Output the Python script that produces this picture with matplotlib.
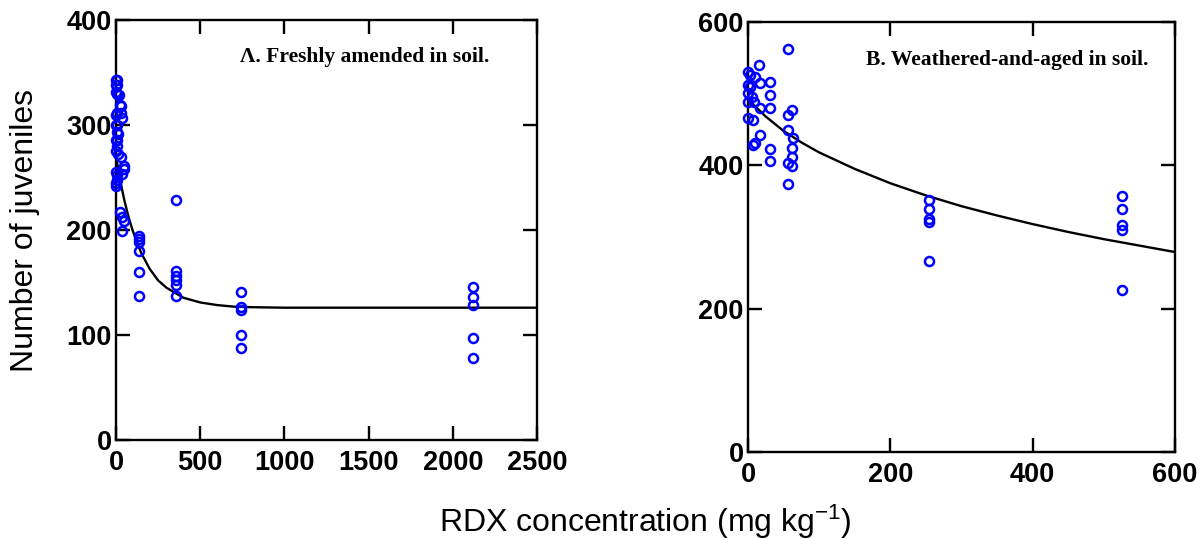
import matplotlib
matplotlib.use("Agg")
import matplotlib.pyplot as plt

plt.rcParams['font.family'] = ['Liberation Sans', 'DejaVu Sans']
plt.rcParams['mathtext.fontset'] = 'custom'
plt.rcParams['mathtext.rm'] = 'Liberation Sans'
plt.rcParams['mathtext.it'] = 'Liberation Sans'

# Panel A: freshly amended soil
a_conc = [0, 6, 0, 6, 0, 6, 20, 24, 30, 6, 0, 30, 36, 0, 6, 6, 12, 0, 6, 6,
          0, 12, 30, 48, 48, 36, 0, 6, 6, 0, 0,
          24, 36, 48, 36,
          137, 137, 137, 137, 137, 137,
          357, 357, 357, 357, 357, 357,
          743, 743, 743, 743, 743,
          2120, 2120, 2120, 2120, 2120]
a_juv = [343, 343, 338, 338, 331, 330, 329, 319, 318, 311, 310, 311, 307, 300, 300, 293, 291, 286, 286, 280,
         275, 272, 270, 261, 258, 253, 255, 252, 248, 242, 245,
         217, 212, 209, 199,
         194, 191, 189, 180, 160, 137,
         229, 161, 156, 152, 148, 137,
         141, 127, 124, 100, 88,
         146, 136, 129, 97, 78]
a_fit_x = [0, 25, 50, 75, 100, 150, 200, 250, 300, 400, 500, 600, 700, 800, 1000, 2500]
a_fit_y = [270, 247, 228, 212, 199, 178, 163, 152, 145, 135.5, 131, 128.5, 127, 126.5, 126, 126]

# Panel B: weathered-and-aged soil
b_conc = [0, 3, 10, 0, 3, 0, 6, 0, 8, 0, 7, 7, 10,
          15, 17, 17, 17,
          31, 31, 31, 31, 31,
          56, 62, 56, 56, 63, 62, 62, 56, 62, 56,
          255, 255, 255, 255, 255,
          525, 525, 525, 525, 525]
b_juv = [530, 526, 523, 512, 509, 501, 495, 488, 488, 466, 463, 428, 431,
         540, 515, 480, 442,
         516, 498, 480, 423, 406,
         562, 477, 470, 449, 438, 424, 412, 403, 399, 374,
         351, 339, 325, 321, 266,
         357, 339, 317, 310, 226]
b_fit_x = [0, 25, 50, 75, 100, 150, 200, 250, 300, 350, 400, 450, 500, 550, 600]
b_fit_y = [492, 468, 448, 432, 418, 395, 375, 358, 343, 330, 318, 307, 297, 288, 279]

W, H = 1202, 539
fig = plt.figure(figsize=(W / 100, H / 100), dpi=100)

ax_a = fig.add_axes([116 / W, 1 - 440 / H, (537 - 116) / W, (440 - 20) / H])
ax_b = fig.add_axes([748 / W, 1 - 452 / H, (1175 - 748) / W, (452 - 22) / H])


def style(ax, xlim, ylim, xticks, yticks):
    ax.set_xlim(*xlim)
    ax.set_ylim(*ylim)
    ax.set_xticks(xticks)
    ax.set_yticks(yticks)
    for s in ax.spines.values():
        s.set_linewidth(1.7)
    ax.tick_params(direction='in', length=10, width=1.7, top=True, right=True,
                   labelsize=19.5)
    ax.tick_params(axis='x', pad=7)
    ax.tick_params(axis='y', pad=3)
    for lab in ax.get_xticklabels() + ax.get_yticklabels():
        lab.set_fontweight('bold')


# panel A
ax_a.plot(a_fit_x, a_fit_y, color='black', lw=1.7, zorder=2)
ax_a.plot(a_conc, a_juv, 'o', mfc='none', mec='#0000ff', ms=6.5, mew=1.8,
          clip_on=False, zorder=3)
style(ax_a, (0, 2500), (0, 400), [0, 500, 1000, 1500, 2000, 2500], [0, 100, 200, 300, 400])
ax_a.text(0.59, 0.912, 'Λ. Freshly amended in soil.', transform=ax_a.transAxes,
          ha='center', va='center', fontsize=15.5, fontweight='bold',
          family=['Liberation Serif', 'DejaVu Serif'])

# panel B
ax_b.plot(b_fit_x, b_fit_y, color='black', lw=1.7, zorder=2)
ax_b.plot(b_conc, b_juv, 'o', mfc='none', mec='#0000ff', ms=6.5, mew=1.8,
          clip_on=False, zorder=3)
style(ax_b, (0, 600), (0, 600), [0, 200, 400, 600], [0, 200, 400, 600])
ax_b.text(0.607, 0.912, 'B. Weathered-and-aged in soil.', transform=ax_b.transAxes,
          ha='center', va='center', fontsize=15.5, fontweight='bold',
          family=['Liberation Serif', 'DejaVu Serif'])

fig.text(25 / W, 1 - 230 / H, 'Number of juveniles', rotation=90,
         ha='center', va='center', fontsize=23)
fig.text(645 / W, 1 - 532 / H, r'RDX concentration (mg kg$^{-1}$)',
         ha='center', va='baseline', fontsize=23)

fig.savefig('out.png', dpi=100)
